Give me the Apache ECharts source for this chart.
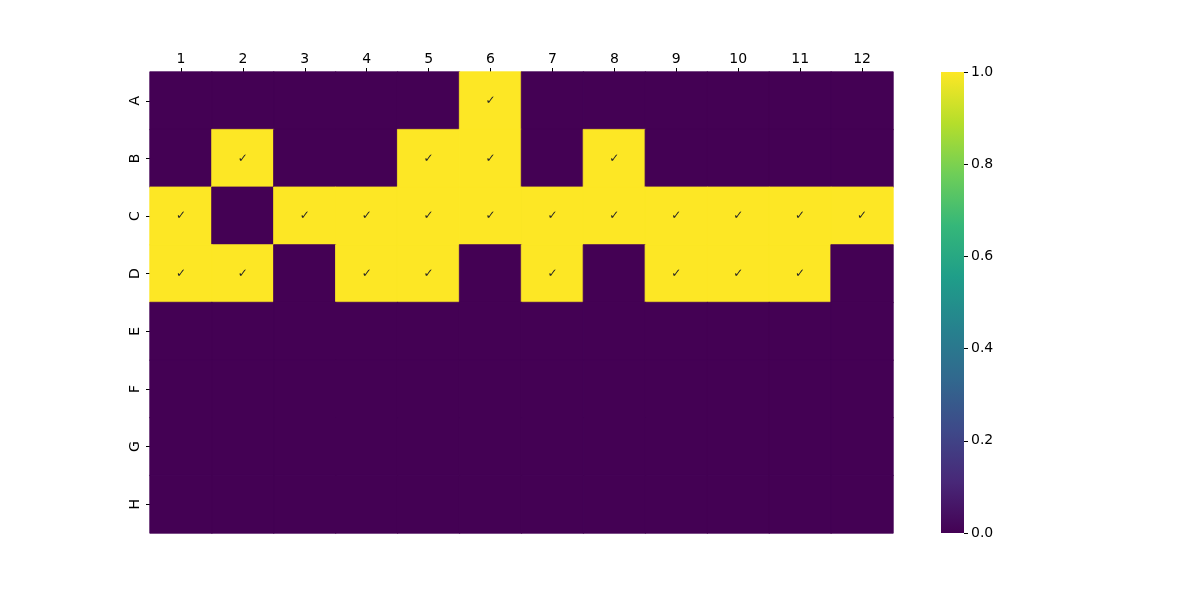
<!DOCTYPE html>
<html><head><meta charset="utf-8">
<script src="https://cdn.jsdelivr.net/npm/echarts@6/dist/echarts.min.js"></script>
<style>html,body{margin:0;padding:0;background:#fff}#c{width:1200px;height:600px}</style>
</head><body><div id="c"></div>
<script>
const columns = ['1','2','3','4','5','6','7','8','9','10','11','12'];
const rows = ['A','B','C','D','E','F','G','H'];
const rowA = [0,0,0,0,0,1,0,0,0,0,0,0];
const rowB = [0,1,0,0,1,1,0,1,0,0,0,0];
const rowC = [1,0,1,1,1,1,1,1,1,1,1,1];
const rowD = [1,1,0,1,1,0,1,0,1,1,1,0];
const rowE = [0,0,0,0,0,0,0,0,0,0,0,0];
const rowF = [0,0,0,0,0,0,0,0,0,0,0,0];
const rowG = [0,0,0,0,0,0,0,0,0,0,0,0];
const rowH = [0,0,0,0,0,0,0,0,0,0,0,0];
const colorbarTicks = [0, 0.2, 0.4, 0.6, 0.8, 1.0];

const viridis = ['#440154','#482878','#3e4989','#31688e','#26828e','#1f9e89','#35b779','#6ece58','#b5de2b','#fde725'];
const matrix = [rowA,rowB,rowC,rowD,rowE,rowF,rowG,rowH];
const data = [];
matrix.forEach((r, yi) => r.forEach((v, xi) => data.push({
  value:[xi, yi, v],
  itemStyle:{borderWidth:0.8, borderColor: v === 1 ? viridis[viridis.length-1] : viridis[0]}
})));

const font = 'DejaVu Sans';
const chart = echarts.init(document.getElementById('c'), null, {renderer:'canvas'});
chart.setOption({
  animation: false,
  textStyle: {fontFamily: font},
  grid: [
    {left:150, top:72, width:743, height:461},
    {left:941, top:72, width:23, height:461}
  ],
  xAxis: [
    {type:'category', data:columns, position:'top', gridIndex:0,
     axisLine:{show:false}, axisTick:{show:true, alignWithLabel:true, length:4, lineStyle:{color:'#000'}},
     axisLabel:{color:'#000', fontSize:14, fontFamily:font, margin:6}, splitLine:{show:false}},
    {type:'category', data:['cb'], gridIndex:1, show:false}
  ],
  yAxis: [
    {type:'category', data:rows, inverse:true, gridIndex:0,
     axisLine:{show:false}, axisTick:{show:true, alignWithLabel:true, length:4, lineStyle:{color:'#000'}},
     axisLabel:{color:'#000', fontSize:14, fontFamily:font, rotate:90, margin:8}, splitLine:{show:false}},
    {type:'value', gridIndex:1, position:'right', min:0, max:1, interval:0.2,
     axisLine:{show:false}, axisTick:{show:true, length:4, lineStyle:{color:'#000'}},
     axisLabel:{color:'#000', fontSize:14, fontFamily:font, margin:7, formatter:v=>v.toFixed(1)},
     splitLine:{show:false}}
  ],
  visualMap: {show:false, min:0, max:1, seriesIndex:0, inRange:{color:viridis}},
  series: [
    {type:'heatmap', xAxisIndex:0, yAxisIndex:0, data:data,
     label:{show:true, color:'#262626', fontSize:12, fontFamily:font,
       formatter:p=>p.value[2]===1?'✓':''},
     emphasis:{disabled:true}},
    {type:'bar', xAxisIndex:1, yAxisIndex:1, data:[colorbarTicks[colorbarTicks.length-1]], barWidth:'100%',
     silent:true,
     itemStyle:{color:new echarts.graphic.LinearGradient(0,1,0,0,
       viridis.map((c,i)=>({offset:i/(viridis.length-1), color:c})))}}
  ]
});
</script></body></html>
